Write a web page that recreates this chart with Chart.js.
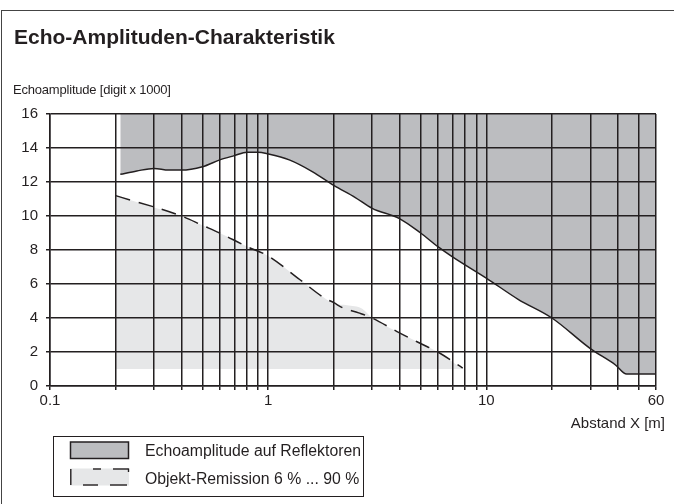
<!DOCTYPE html>
<html>
<head>
<meta charset="utf-8">
<script src="https://cdn.jsdelivr.net/npm/chart.js@4.4.1/dist/chart.umd.min.js"></script>
<style>
  html, body { margin: 0; padding: 0; background: #fff; }
  #wrap { position: relative; width: 674px; height: 504px; overflow: hidden; font-family: "Liberation Sans", Arial, Helvetica, sans-serif; color: #231f20; }
  #c { position: absolute; left: 0; top: 0; }
  .frame { position: absolute; left: 1px; top: 10px; width: 680px; height: 600px; border-top: 1.5px solid #444; border-left: 1.5px solid #444; }
  .t { position: absolute; white-space: nowrap; }
  #title { left: 14px; top: 25.5px; font-size: 21px; line-height: 21px; font-weight: bold; }
  #ytitle { left: 13px; top: 83.3px; font-size: 13px; line-height: 13px; letter-spacing: -0.2px; }
  #xtitle { right: 9px; top: 415px; font-size: 15px; line-height: 15px; }
  #legend { position: absolute; left: 52.5px; top: 436px; width: 311px; height: 60.5px; box-sizing: border-box; border: 1.5px solid #231f20; }
  .lt { font-size: 15.8px; line-height: 15.8px; }
  svg { position: absolute; left: 0; top: 0; }
</style>
</head>
<body>
<div id="wrap">
  <canvas id="c" width="674" height="504"></canvas>
  <div class="frame"></div>
  <div class="t" id="title">Echo-Amplituden-Charakteristik</div>
  <div class="t" id="ytitle">Echoamplitude [digit x 1000]</div>
  <div class="t" id="xtitle">Abstand X [m]</div>
  <div id="legend"></div>
  <svg width="674" height="504" viewBox="0 0 674 504">
    <rect x="70.5" y="442" width="58" height="16.5" fill="#bcbdc0" stroke="#231f20" stroke-width="1.5"/>
    <rect x="70" y="468.5" width="59" height="17" fill="#e6e7e8"/>
    <line x1="70.8" y1="469" x2="70.8" y2="485" stroke="#231f20" stroke-width="1.4"/>
    <line x1="93" y1="469" x2="101" y2="469" stroke="#231f20" stroke-width="1.4"/>
    <line x1="113" y1="469" x2="128.5" y2="469" stroke="#231f20" stroke-width="1.4"/>
    <line x1="128.5" y1="468.5" x2="128.5" y2="472" stroke="#231f20" stroke-width="1.4"/>
    <line x1="83" y1="485" x2="98" y2="485" stroke="#231f20" stroke-width="1.4"/>
    <line x1="110" y1="485" x2="127" y2="485" stroke="#231f20" stroke-width="1.4"/>
  </svg>
  <div class="t lt" style="left:145px; top:442.6px;">Echoamplitude auf Reflektoren</div>
  <div class="t lt" style="left:145px; top:470.6px;">Objekt-Remission 6 % ... 90 %</div>
</div>
<script>
// ---- data ----
const upperX = [0.21, 0.25, 0.3, 0.35, 0.4, 0.5, 0.6, 0.7, 0.8, 0.9, 1.0, 1.25, 1.6, 2.0, 2.5, 3.0, 4.0, 5.0, 6.0, 7.0, 10, 14, 20, 30, 39, 44, 60];
const upperY = [12.45, 12.65, 12.8, 12.7, 12.7, 12.9, 13.3, 13.55, 13.75, 13.75, 13.65, 13.3, 12.6, 11.8, 11.1, 10.45, 9.85, 9.0, 8.2, 7.6, 6.35, 5.1, 4.0, 2.2, 1.25, 0.7, 0.7];

const lightX = [0.2, 0.3, 0.4, 0.5, 0.6, 0.8, 1.0, 1.4, 1.8, 2.0, 2.3, 2.7, 3.0, 3.9, 5.0, 6.0, 7.8];
const lightY = [11.2, 10.5, 10.0, 9.45, 9.0, 8.2, 7.65, 6.25, 5.2, 4.85, 4.75, 4.55, 4.0, 3.2, 2.5, 2.0, 1.0];
const lightBase = 1;

const dashX = [0.2, 0.4, 0.5, 0.6, 0.8, 1.0, 1.4, 1.8, 2.0, 2.2, 2.6, 3.0, 3.9, 5.0, 6.0, 7.8];
const dashY = [11.2, 10.0, 9.45, 9.0, 8.2, 7.65, 6.25, 5.2, 4.9, 4.6, 4.3, 4.0, 3.2, 2.5, 2.0, 1.05];

const xTicks = [0.1, 0.2, 0.3, 0.4, 0.5, 0.6, 0.7, 0.8, 0.9, 1, 2, 3, 4, 5, 6, 7, 8, 9, 10, 20, 30, 40, 50, 60];
const xLabels = [0.1, 1, 10, 60];
const yMin = 0, yMax = 16, yStep = 2;

const toPts = (xs, ys) => xs.map((x, i) => ({ x: x, y: ys[i] }));
const INK = '#231f20';

new Chart(document.getElementById('c'), {
  type: 'line',
  data: {
    datasets: [
      {
        label: 'Objekt-Remission 6 % ... 90 %',
        data: toPts(dashX, dashY),
        borderColor: INK,
        borderWidth: 1.5,
        borderDash: [15, 9],
        fill: false,
        pointRadius: 0,
        cubicInterpolationMode: 'monotone'
      },
      {
        label: 'Echoamplitude auf Reflektoren',
        data: toPts(upperX, upperY),
        borderColor: INK,
        borderWidth: 1.5,
        backgroundColor: '#bcbdc0',
        fill: 'end',
        pointRadius: 0,
        cubicInterpolationMode: 'monotone'
      },
      {
        label: 'remission area',
        data: toPts(lightX, lightY),
        borderWidth: 0,
        borderColor: 'rgba(0,0,0,0)',
        backgroundColor: '#e6e7e8',
        fill: { value: lightBase },
        pointRadius: 0,
        cubicInterpolationMode: 'monotone'
      }
    ]
  },
  options: {
    responsive: false,
    animation: false,
    devicePixelRatio: 1,
    layout: { padding: { left: 0, right: 18, top: 114, bottom: 88 } },
    plugins: { legend: { display: false }, tooltip: { enabled: false }, title: { display: false } },
    scales: {
      x: {
        type: 'logarithmic',
        min: 0.1,
        max: 60,
        afterBuildTicks: (s) => { s.ticks = xTicks.map(v => ({ value: v })); },
        afterFit: (s) => { s.height = 30; },
        grid: { color: INK, lineWidth: 1.5, tickLength: 4, drawTicks: true, z: 1 },
        border: { display: true, color: INK, width: 1.5, z: 1 },
        ticks: {
          autoSkip: false,
          maxRotation: 0,
          padding: 2,
          color: INK,
          font: { family: '"Liberation Sans", Arial, sans-serif', size: 15 },
          callback: (v) => xLabels.includes(v) ? String(v) : ''
        }
      },
      y: {
        min: yMin,
        max: yMax,
        afterFit: (s) => { s.width = 50; },
        grid: { color: INK, lineWidth: 1.5, tickLength: 4, drawTicks: true, z: 1 },
        border: { display: true, color: INK, width: 1.5, z: 1 },
        ticks: {
          stepSize: yStep,
          padding: 8,
          color: INK,
          font: { family: '"Liberation Sans", Arial, sans-serif', size: 15 }
        }
      }
    }
  }
});
</script>
</body>
</html>
